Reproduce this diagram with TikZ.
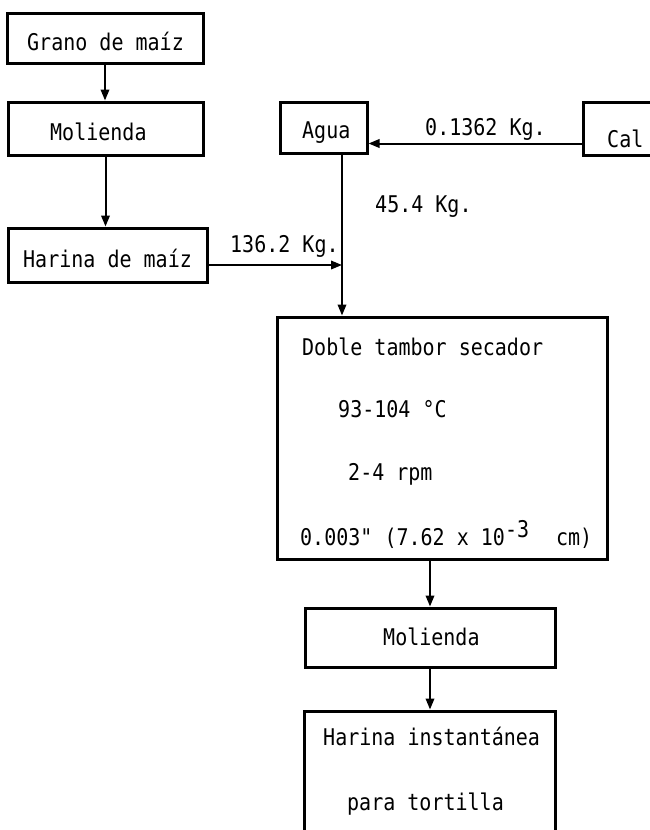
\documentclass[tikz,border=0pt]{standalone}
\usepackage{fontspec}
\setmonofont[FakeStretch=0.87]{DejaVu Sans Mono}
\usetikzlibrary{arrows.meta}

\begin{document}
\begin{tikzpicture}[x=1pt, y=-1pt,
  box/.style={draw, line width=3pt, inner sep=0pt},
  txt/.style={font=\ttfamily\fontsize{23}{27}\selectfont, inner sep=0pt, anchor=base west},
  flow/.style={line width=2pt, -{Triangle[length=11pt, width=8.5pt]}}]
\useasboundingbox (0,0) rectangle (649,830);

% left column
\node [box, minimum width=196pt, minimum height=50pt] (grano)  at (105,38)    {};
\node [box, minimum width=195pt, minimum height=53pt] (mol1)   at (105.5,128.5) {};
\node [box, minimum width=199pt, minimum height=54pt] (harina) at (107.5,255) {};
\node [txt] (tgrano)  at (27,50)  {Grano de maíz};
\node [txt] (tmol1)   at (50,140) {Molienda};
\node [txt] (tharina) at (23,267) {Harina de maíz};

% water and lime
\node [box, minimum width=87pt, minimum height=51pt] (agua) at (323.5,127.5) {};
\node [box, minimum width=82pt, minimum height=53pt] (cal)  at (624,128.5)   {};
\node [txt] (tagua) at (302,138) {Agua};
\node [txt] (tcal)  at (607,147) {Cal};

% dryer
\node [box, minimum width=330pt, minimum height=242pt] (doble) at (442,438) {};
\node [txt] (td1) at (302,355) {Doble tambor secador};
\node [txt] (td2) at (338,417) {93-104 °C};
\node [txt] (td3) at (348,480) {2-4 rpm};
\node [txt] (td4) at (300,545) {0.003" (7.62 x 10\raisebox{8pt}{-3}\hspace{27pt}cm)};

% product
\node [box, minimum width=250pt, minimum height=59pt]  (mol2)    at (430,637.5) {};
\node [box, minimum width=251pt, minimum height=138pt] (harinst) at (429.5,780) {};
\node [txt] (tmol2) at (383,645) {Molienda};
\node [txt] (thi1)  at (323,745) {Harina instantánea};
\node [txt] (thi2)  at (347,810) {para tortilla};

% masses
\node [txt] (m1) at (230,252) {136.2 Kg.};
\node [txt] (m2) at (375,212) {45.4 Kg.};
\node [txt] (m3) at (425,135) {0.1362 Kg.};

\coordinate (join) at (342,265);

\draw [flow] (grano.south) -- (grano.south |- mol1.north);
\draw [flow] (mol1.south) -- (mol1.south |- harina.north);
\draw [flow] (harina.east |- join) -- (join);
\draw [flow] ([yshift=-15pt]cal.west) -- ([yshift=-15pt]cal.west -| agua.east);
\draw [flow] (join |- agua.south) -- (join |- doble.north);
\draw [flow] (mol2.north |- doble.south) -- (mol2.north);
\draw [flow] (mol2.south) -- (mol2.south |- harinst.north);

\end{tikzpicture}
\end{document}
